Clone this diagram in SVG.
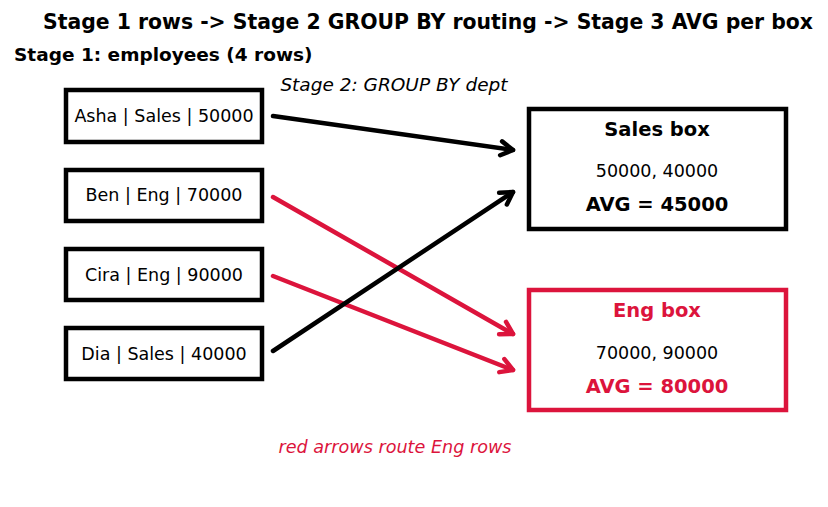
<svg xmlns="http://www.w3.org/2000/svg" width="828" height="507" viewBox="0 0 828 507">
<style>
text{font-family:"DejaVu Sans","Liberation Sans",sans-serif;fill:#000}
.t{font-size:20.4px;font-weight:bold}
.h{font-size:18.5px;font-weight:bold}
.i{font-size:18.5px;font-style:italic}
.r{font-size:17.5px}
.b{font-size:19.5px;font-weight:bold}
.n{font-size:17.6px;font-style:italic}
.red{fill:#dc143c}
.box{fill:#fff;stroke:#000;stroke-width:4.5}
.rbox{fill:#fff;stroke:#dc143c;stroke-width:4.5}
.k{stroke:#000;stroke-width:4.5;fill:none;stroke-linecap:round}
.c{stroke:#dc143c;stroke-width:4.5;fill:none;stroke-linecap:round}
</style>
<defs>
<marker id="ak" markerUnits="userSpaceOnUse" viewBox="-16 -10 20 20" markerWidth="20" markerHeight="20" refX="0" refY="0" orient="auto" overflow="visible">
<path d="M-12,-7 L0,0 L-12,7" fill="none" stroke="#000" stroke-width="4.5" stroke-linecap="round" stroke-linejoin="round"/>
</marker>
<marker id="ar" markerUnits="userSpaceOnUse" viewBox="-16 -10 20 20" markerWidth="20" markerHeight="20" refX="0" refY="0" orient="auto" overflow="visible">
<path d="M-12,-7 L0,0 L-12,7" fill="none" stroke="#dc143c" stroke-width="4.5" stroke-linecap="round" stroke-linejoin="round"/>
</marker>
</defs>
<rect width="828" height="507" fill="#fff"/>
<text class="t" x="428" y="29" text-anchor="middle">Stage 1 rows -&gt; Stage 2 GROUP BY routing -&gt; Stage 3 AVG per box</text>
<text class="h" x="14" y="61">Stage 1: employees (4 rows)</text>
<text class="i" x="394" y="91" text-anchor="middle">Stage 2: GROUP BY dept</text>
<g id="row-asha"><rect class="box" x="66" y="90" width="196" height="52"/><text class="r" x="164" y="122" text-anchor="middle">Asha | Sales | 50000</text></g>
<g id="row-ben"><rect class="box" x="66" y="170" width="196" height="51"/><text class="r" x="164" y="201" text-anchor="middle">Ben | Eng | 70000</text></g>
<g id="row-cira"><rect class="box" x="66" y="249" width="196" height="51"/><text class="r" x="164" y="281" text-anchor="middle">Cira | Eng | 90000</text></g>
<g id="row-dia"><rect class="box" x="66" y="328" width="196" height="51"/><text class="r" x="164" y="360" text-anchor="middle">Dia | Sales | 40000</text></g>
<g id="sales-box"><rect class="box" x="529" y="109" width="257" height="120"/>
<text class="b" x="657" y="136" text-anchor="middle">Sales box</text>
<text class="r" x="657" y="177" text-anchor="middle">50000, 40000</text>
<text class="b" x="657" y="211" text-anchor="middle">AVG = 45000</text></g>
<g id="eng-box"><rect class="rbox" x="529" y="290" width="257" height="120"/>
<text class="b red" x="657" y="317" text-anchor="middle">Eng box</text>
<text class="r" x="657" y="359" text-anchor="middle">70000, 90000</text>
<text class="b red" x="657" y="393" text-anchor="middle">AVG = 80000</text></g>
<g id="connectors">
<line class="k" x1="273" y1="116" x2="513" y2="150" marker-end="url(#ak)"/>
<line class="c" x1="273" y1="197" x2="513" y2="334" marker-end="url(#ar)"/>
<line class="c" x1="273" y1="276" x2="513" y2="370" marker-end="url(#ar)"/>
<line class="k" x1="273" y1="351" x2="513" y2="192" marker-end="url(#ak)"/>
</g>
<text class="n red" x="395" y="453" text-anchor="middle">red arrows route Eng rows</text>
</svg>
